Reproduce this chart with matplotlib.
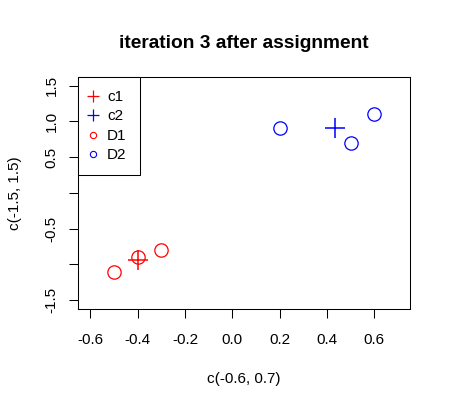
import matplotlib
matplotlib.use("Agg")
import matplotlib.pyplot as plt
from matplotlib.lines import Line2D

plt.rcParams['font.family'] = ['Liberation Sans', 'DejaVu Sans']

# data
d1_x = [-0.5, -0.4, -0.3]
d1_y = [-1.1, -0.9, -0.8]
d2_x = [0.2, 0.5, 0.6]
d2_y = [0.9, 0.7, 1.1]
c1 = [sum(d1_x) / 3, sum(d1_y) / 3]
c2 = [sum(d2_x) / 3, sum(d2_y) / 3]
xticks = [-0.6, -0.4, -0.2, 0.0, 0.2, 0.4, 0.6]
xticklabels = ['-0.6', '-0.4', '-0.2', '0.0', '0.2', '0.4', '0.6']
yticks = [-1.5, -1.0, -0.5, 0.0, 0.5, 1.0, 1.5]
yticklabels = ['-1.5', '', '-0.5', '', '0.5', '1.0', '1.5']
legend_labels = ['c1', 'c2', 'D1', 'D2']

fig = plt.figure(figsize=(4.51, 4.07), dpi=100)
ax = fig.add_axes([78/451, 1-308.7/407, (410.3-78)/451, (308.7-77)/407])

fs = 11
ax.plot(d1_x, d1_y, 'o', ms=9.6, mfc='none', mec='red', mew=0.9, ls='none')
ax.plot(d2_x, d2_y, 'o', ms=9.6, mfc='none', mec='blue', mew=0.9, ls='none')
ax.plot([c1[0]], [c1[1]], '+', ms=14.5, mec='red', mew=1.1)
ax.plot([c2[0]], [c2[1]], '+', ms=14.5, mec='blue', mew=1.1)

ax.set_xlim(-0.652, 0.752)
ax.set_ylim(-1.62, 1.62)
ax.set_xticks(xticks)
ax.set_xticklabels(xticklabels)
ax.set_yticks(yticks)
ax.set_yticklabels(yticklabels, rotation=90, va='center')
ax.tick_params(direction='out', length=6.5, width=0.75, labelsize=fs)
ax.tick_params(axis='x', pad=11)
ax.tick_params(axis='y', pad=7.5)
for s in ax.spines.values():
    s.set_linewidth(0.75)

ax.set_xlabel('c(-0.6, 0.7)', fontsize=fs, labelpad=18)
ax.set_ylabel('c(-1.5, 1.5)', fontsize=fs, labelpad=16)
ax.set_title('iteration 3 after assignment', fontsize=13.8, fontweight='bold', pad=21)

handles = [
    Line2D([], [], marker='+', ls='none', ms=8, mec='red', mew=0.9),
    Line2D([], [], marker='+', ls='none', ms=8, mec='blue', mew=0.9),
    Line2D([], [], marker='o', ls='none', ms=4.5, mfc='none', mec='red', mew=0.8),
    Line2D([], [], marker='o', ls='none', ms=4.5, mfc='none', mec='blue', mew=0.8),
]
leg = ax.legend(handles, legend_labels, loc='upper left', bbox_to_anchor=(0, 1),
                borderaxespad=0, fancybox=False, edgecolor='black', framealpha=1,
                fontsize=fs, handlelength=0.2, handletextpad=0.85, labelspacing=0.36,
                borderpad=0.85)
leg.get_frame().set_linewidth(0.75)

fig.savefig('out.png', dpi=100)
